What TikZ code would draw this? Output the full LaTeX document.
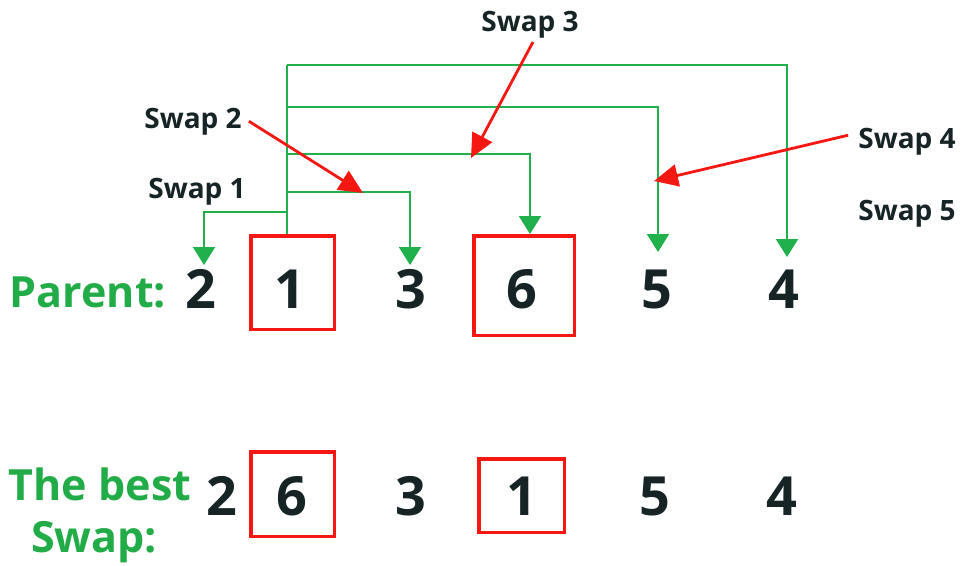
\documentclass[tikz,border=0pt]{standalone}
\usepackage{fontspec}
\setmainfont{Open Sans}
\usetikzlibrary{arrows.meta}
\definecolor{lgreen}{RGB}{32,176,76}
\definecolor{tgreen}{RGB}{34,172,72}
\definecolor{sred}{RGB}{245,24,18}
\definecolor{ink}{RGB}{22,36,38}

\begin{document}
\begin{tikzpicture}[x=1pt,y=-1pt,
  digit/.style={font=\fontsize{54}{54}\selectfont\bfseries, text=ink, anchor=base, inner sep=0pt},
  swaplabel/.style={font=\fontsize{28}{28}\selectfont\bfseries, text=ink, anchor=base, inner sep=1pt},
  title/.style={font=\fontsize{43}{43}\selectfont\bfseries, text=tgreen, anchor=base, inner sep=0pt},
  redbox/.style={draw=sred, line width=3.5pt, inner sep=0pt},
  gline/.style={draw=lgreen, line width=2pt},
  garrow/.style={gline, -{Triangle[length=18pt,width=22pt]}},
  rarrow/.style={draw=sred, line width=2.8pt, -{Triangle[length=24pt,width=22pt]}},
]
\useasboundingbox (0,0) rectangle (963,565);
\fill[white] (0,0) rectangle (963,565);

% row labels
\node[title] (parent) at (88,307) {Parent:};
\node[title] (best1) at (100,500) {The best};
\node[title] (best2) at (94,552) {Swap:};

% parent sequence
\node[digit] (p2) at (201,308) {2};
\node[digit] (p1) at (290,308) {1};
\node[digit] (p3) at (411,308) {3};
\node[digit] (p6) at (522,308) {6};
\node[digit] (p5) at (657,308) {5};
\node[digit] (p4) at (784,308) {4};

% sequence after the best swap
\node[digit] (q2) at (222,515) {2};
\node[digit] (q6) at (292,515) {6};
\node[digit] (q3) at (411,515) {3};
\node[digit] (q1) at (522,515) {1};
\node[digit] (q5) at (655,515) {5};
\node[digit] (q4) at (782,515) {4};

% boxes around the swapped pair
\node[redbox, minimum width=83.5pt, minimum height=93.5pt] (pb1) at (292.5,282.5) {};
\node[redbox, minimum width=100.5pt, minimum height=99.5pt] (pb6) at (524,285.5) {};
\node[redbox, minimum width=83.5pt, minimum height=84.5pt] (qb6) at (292.5,494) {};
\node[redbox, minimum width=85.5pt, minimum height=73.5pt] (qb1) at (521.5,495.5) {};

% swap labels
\node[swaplabel] (s1) at (197,198) {Swap 1};
\node[swaplabel] (s2) at (193,128) {Swap 2};
\node[swaplabel] (s3) at (530,31) {Swap 3};
\node[swaplabel] (s4) at (907,148) {Swap 4};
\node[swaplabel] (s5) at (907,220) {Swap 5};

% branch points on the trunk and arrow targets
\coordinate (j5) at (287,65);
\coordinate (j4) at (287,107);
\coordinate (j3) at (287,154);
\coordinate (j2) at (287,192);
\coordinate (j1) at (287,212);
\coordinate (a2) at (204,265);
\coordinate (a3) at (410,265);
\coordinate (a6) at (530,234);
\coordinate (a5) at (658,252);
\coordinate (a4) at (787,257);

% green swap tree
\draw[gline] (pb1.north -| j5) -- (j5);
\draw[garrow] (j5) -| (a4);
\draw[garrow] (j4) -| (a5);
\draw[garrow] (j3) -| (a6);
\draw[garrow] (j2) -| (a3);
\draw[garrow] (j1) -| (a2);

% red pointers
\coordinate (h2) at (363,193);
\coordinate (h3) at (471,158);
\coordinate (h4) at (654,181);
\draw[rarrow] ([xshift=6pt]s2.east) -- (h2);
\draw[rarrow] ([shift={(3,3)}]s3.south) -- (h3);
\draw[rarrow] ([shift={(-9,-6)}]s4.west) -- (h4);
\end{tikzpicture}
\end{document}
